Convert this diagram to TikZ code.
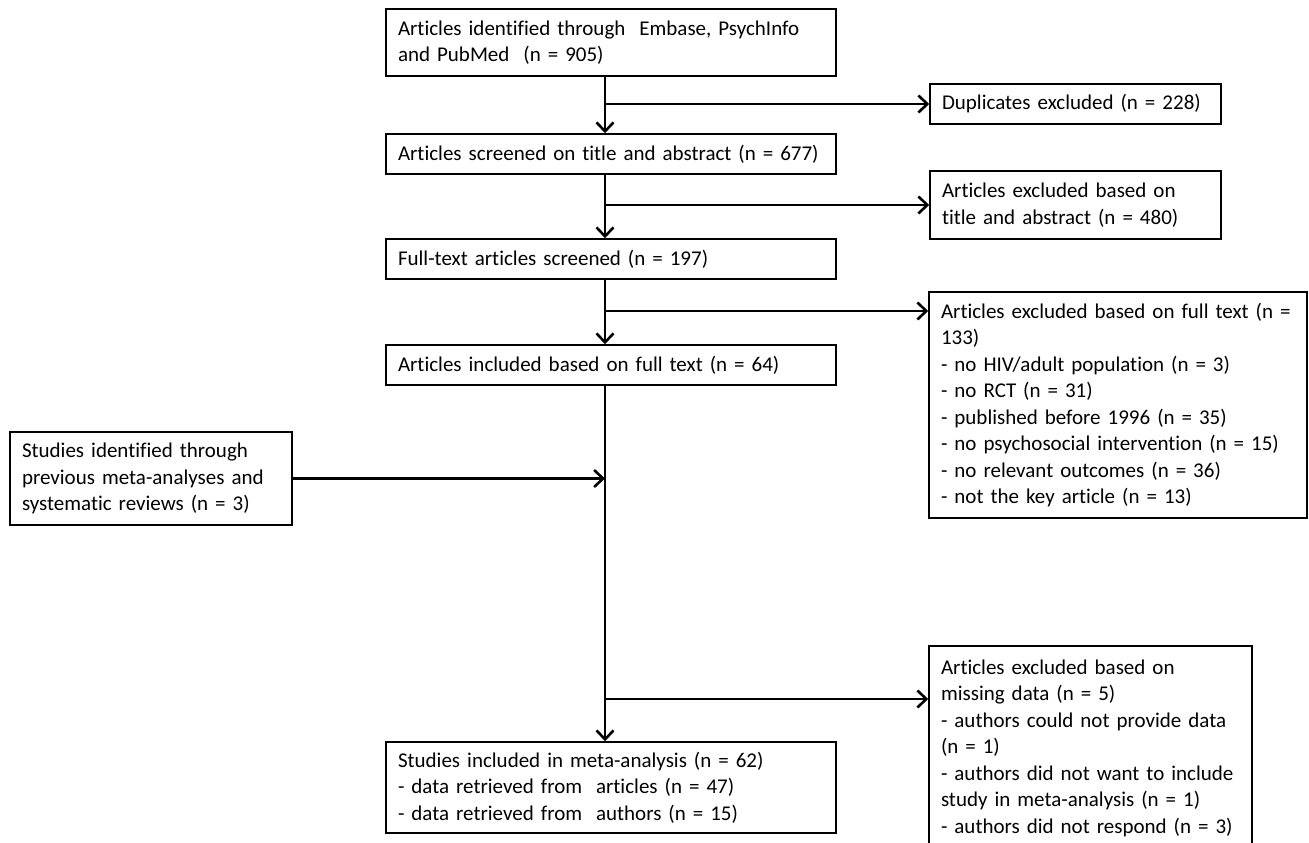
\documentclass[tikz,border=0pt]{standalone}
\usepackage{fontspec}
\setmainfont{Carlito}[Ligatures=NoCommon]
\usetikzlibrary{arrows.meta}
\begin{document}
\begin{tikzpicture}[x=1pt,y=-1pt,
  box/.style={draw, line width=1.5pt, align=left, inner xsep=12pt, inner ysep=4pt,
    font=\fontsize{21}{26.5}\selectfont, anchor=center},
  conn/.style={line width=2.6pt, -{Straight Barb[length=9pt,width=17pt]}}]
\useasboundingbox (0,0) rectangle (1309,843);
\coordinate (spine) at (605,0);
% main column
\node[box, text width=426pt, minimum height=67pt] (b1) at (611,42.5)
  {Articles identified through\ \ Embase, PsychInfo\\and PubMed\ \ (n = 905)};
\node[box, text width=426pt, minimum height=40pt] (b2) at (611,154)
  {Articles screened on title and abstract (n = 677)};
\node[box, text width=426pt, minimum height=40pt] (b3) at (611,259)
  {Full-text articles screened (n = 197)};
\node[box, text width=426pt, minimum height=40pt] (b4) at (611,365)
  {Articles included based on full text (n = 64)};
\node[box, text width=426pt, minimum height=91pt] (b5) at (611,787.5)
  {Studies included in meta-analysis (n = 62)\\- data retrieved from\ \ articles (n = 47)\\- data retrieved from\ \ authors (n = 15)};
% left box
\node[box, text width=258pt, minimum height=93pt] (prev) at (151,478.5)
  {Studies identified through\\previous meta-analyses and\\systematic reviews (n = 3)};
% right boxes
\node[box, text width=267pt, minimum height=40pt] (dup) at (1075.5,104)
  {Duplicates excluded (n = 228)};
\node[box, text width=267pt, minimum height=68pt] (tit) at (1075.5,205)
  {Articles excluded based on\\title and abstract (n = 480)};
\node[box, text width=354pt, minimum height=226pt] (ft) at (1118,405)
  {Articles excluded based on full text (n =\\133)\\- no HIV/adult population (n = 3)\\- no RCT (n = 31)\\- published before 1996 (n = 35)\\- no psychosocial intervention (n = 15)\\- no relevant outcomes (n = 36)\\- not the key article (n = 13)};
\node[box, text width=299pt, minimum height=204pt] (md) at (1090.5,748)
  {Articles excluded based on\\missing data (n = 5)\\- authors could not provide data\\(n = 1)\\- authors did not want to include\\study in meta-analysis (n = 1)\\- authors did not respond (n = 3)};
% junctions
\coordinate (j3) at (605,311);
\coordinate (j4) at (605,699);
% vertical connectors
\draw[conn] (b1.south -| spine) -- (b2.north -| spine);
\draw[conn] (b2.south -| spine) -- (b3.north -| spine);
\draw[conn] (b3.south -| spine) -- (b4.north -| spine);
\draw[conn] (b4.south -| spine) -- (b5.north -| spine);
% branches
\draw[conn] (spine |- dup.west) -- (dup.west);
\draw[conn] (spine |- tit.west) -- (tit.west);
\draw[conn] (j3) -- (j3 -| ft.west);
\draw[conn] (j4) -- (j4 -| md.west);
\draw[conn] (prev.east) -- (prev.east -| spine);
\end{tikzpicture}
\end{document}
